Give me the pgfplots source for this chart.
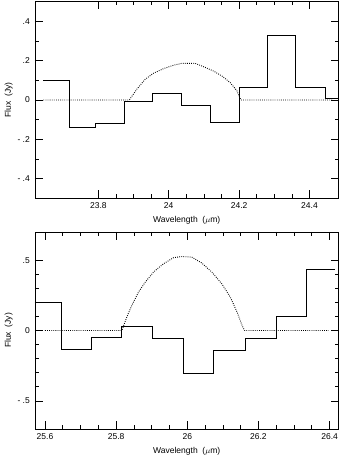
\documentclass[border=0pt]{standalone}
\usepackage{fontspec}
\setmainfont{Liberation Sans}
\usepackage{pgfplots}
\pgfplotsset{compat=1.18}
\begin{document}
\fontsize{8.5}{10}\selectfont
\begin{tikzpicture}
\useasboundingbox (0,0) rectangle (339pt,455pt);
\pgfplotsset{
  myaxis/.style={
    scale only axis, width=303.5pt, height=197pt, anchor=south west,
    axis line style={line width=0.7pt},
    tick align=inside, xtick pos=both, ytick pos=both,
    xticklabel pos=lower, yticklabel pos=left,
    major tick length=8pt, minor tick length=4pt,
    every tick/.style={line width=0.7pt, black},
    minor x tick num=3,
    /pgf/number format/assume math mode=true,
    every x tick label/.append style={anchor=base, yshift=-10pt, inner sep=0pt},
    every y tick label/.append style={anchor=east, xshift=-5pt, inner sep=0pt},
    every axis x label/.style={at={(axis description cs:0.5,0)}, anchor=base, yshift=-24pt},
    every axis y label/.style={at={(axis description cs:0,0.5)}, rotate=90, anchor=base, xshift=0pt},
    xlabel={Wavelength\ \ ($\mu$m)},
    ylabel={Flux\ \ (Jy)},
    ylabel style={yshift=24pt},
    clip=true,
  },
  hist/.style={black, line width=0.9pt, const plot, mark=none},
  model/.style={black, line width=0.9pt, dash pattern=on 0.8pt off 1.3pt, mark=none},
}
% top panel
\begin{axis}[myaxis, at={(35pt,256.5pt)},
  xmin=23.62, xmax=24.4825, ymin=-0.5, ymax=0.5,
  xtick={23.8,24,24.2,24.4},
  xticklabels={23.8,24,24.2,24.4},
  ytick={-0.4,-0.2,0,0.2,0.4},
  yticklabels={-\ .4,-\ .2,0,.2,.4},
  minor y tick num=1]
\addplot[hist] coordinates {
 (23.644,0.097) (23.718,-0.138) (23.793,-0.121) (23.873,-0.007)
 (23.955,0.0345) (24.036,-0.0276) (24.119,-0.1155) (24.201,0.0655)
 (24.281,0.326) (24.361,0.0655) (24.444,0.0086) (24.4825,0.0086)};
\addplot[model] coordinates {
 (23.644,0) (23.750,0) (23.850,0) (23.888,0)
 (23.909,0.054) (23.933,0.105) (23.956,0.135) (23.985,0.159)
 (24.013,0.176) (24.037,0.186) (24.075,0.186) (24.099,0.169)
 (24.127,0.147) (24.151,0.122) (24.175,0.088) (24.194,0.046)
 (24.205,0) (24.300,0) (24.400,0) (24.468,0)};
\end{axis}
% bottom panel
\begin{axis}[myaxis, at={(35pt,26pt)},
  xmin=25.572, xmax=26.425, ymin=-0.7, ymax=0.7,
  xtick={25.6,25.8,26,26.2,26.4},
  xticklabels={25.6,25.8,26,26.2,26.4},
  ytick={-0.5,0,0.5},
  yticklabels={-\ .5,0,.5},
  minor y tick num=4]
\addplot[hist] coordinates {
 (25.572,0.1995) (25.645,-0.135) (25.7305,-0.050) (25.815,0.031)
 (25.902,-0.057) (25.9885,-0.306) (26.074,-0.1425) (26.164,-0.057)
 (26.251,0.102) (26.335,0.437) (26.414,0.437)};
\addplot[model] coordinates {
 (25.600,0) (25.700,0) (25.816,0)
 (25.830,0.095) (25.844,0.178) (25.863,0.273) (25.882,0.344)
 (25.905,0.415) (25.933,0.474) (25.961,0.517) (25.985,0.526)
 (26.013,0.521) (26.041,0.479) (26.069,0.415) (26.097,0.332)
 (26.121,0.237) (26.140,0.130) (26.154,0.036) (26.161,0)
 (26.250,0) (26.397,0)};
\end{axis}
\end{tikzpicture}
\end{document}
